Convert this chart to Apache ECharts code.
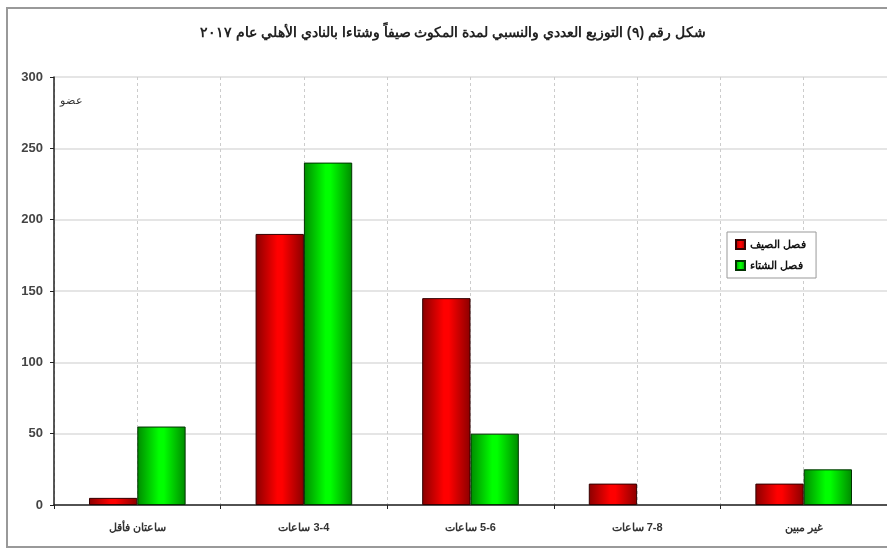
<!DOCTYPE html>
<html>
<head>
<meta charset="utf-8">
<script src="https://cdn.jsdelivr.net/npm/echarts@6/dist/echarts.min.js"></script>
<style>
html,body{margin:0;padding:0;background:#fff;}
#c{width:887px;height:549px;}
</style>
</head>
<body>
<div id="c"></div>
<script>
const titleText = "شكل رقم (٩) التوزيع العددي والنسبي لمدة المكوث صيفاً وشتاءا بالنادي الأهلي عام ٢٠١٧";
const unitText = "عضو";
const categories = ["ساعتان فأقل", "ساعات \u200E3-4", "ساعات \u200E5-6", "ساعات \u200E7-8", "غير مبين"];
const seriesNames = ["فصل الصيف", "فصل الشتاء"];
const summerValues = [5, 190, 145, 15, 15];
const winterValues = [55, 240, 50, 0, 25];
const yTicks = {min: 0, max: 300, interval: 50};

const halfCats = [];
categories.forEach((c) => { halfCats.push(c + "-a"); halfCats.push(c + "-b"); });

function grad(edge, mid) {
  return new echarts.graphic.LinearGradient(0, 0, 1, 0, [
    {offset: 0, color: edge}, {offset: 0.45, color: mid}, {offset: 0.55, color: mid}, {offset: 1, color: edge}
  ]);
}
const noZero = v => (v === 0 ? '-' : v);

const chart = echarts.init(document.getElementById('c'));
chart.setOption({
  animation: false,
  backgroundColor: '#fff',
  title: {
    text: titleText,
    left: 448, top: 21, textAlign: 'center',
    textStyle: {fontFamily: 'Arial', fontSize: 14, fontWeight: 'bold', color: '#222'}
  },
  legend: {
    orient: 'vertical',
    left: 727, top: 232,
    itemWidth: 9, itemHeight: 9, itemGap: 10,
    icon: 'rect',
    padding: [7, 10, 7, 8],
    borderColor: '#999', borderWidth: 1,
    backgroundColor: '#fff',
    textStyle: {fontFamily: 'Arial', fontSize: 11, fontWeight: 'bold', color: '#111'},
    data: seriesNames
  },
  graphic: [
    {type: 'rect', shape: {x: 7, y: 8, width: 890, height: 539}, style: {fill: 'none', stroke: '#999', lineWidth: 2}, z: 100, silent: true},
    {type: 'text', left: 60, top: 95, style: {text: unitText, font: '11px Arial', fill: '#333'}}
  ],
  grid: {left: 54, top: 77, width: 835, height: 428, containLabel: false},
  xAxis: [
    {
      type: 'category', data: categories, gridIndex: 0,
      axisLine: {lineStyle: {color: '#222', width: 1.5}},
      axisTick: {show: true, length: 4, lineStyle: {color: '#222'}},
      axisLabel: {fontFamily: 'Arial', fontSize: 11, fontWeight: 'bold', color: '#333', margin: 17, interval: 0},
      splitLine: {show: false}
    },
    {
      type: 'category', data: halfCats, gridIndex: 0, position: 'top',
      axisLine: {show: false}, axisTick: {show: false}, axisLabel: {show: false},
      splitLine: {show: true, interval: 0, lineStyle: {color: '#ccc', type: [3, 3], width: 1}}
    }
  ],
  yAxis: {
    type: 'value', min: yTicks.min, max: yTicks.max, interval: yTicks.interval,
    axisLine: {show: true, lineStyle: {color: '#222', width: 1.5}},
    axisTick: {show: true, length: 4, lineStyle: {color: '#222'}},
    axisLabel: {fontFamily: 'Arial', fontSize: 13, fontWeight: 'bold', color: '#444', margin: 11},
    splitLine: {show: true, lineStyle: {color: '#ddd', width: 1.5}}
  },
  series: [
    {
      name: seriesNames[0], type: 'bar', data: summerValues.map(noZero), xAxisIndex: 0,
      barGap: '0%', barCategoryGap: '42%',
      itemStyle: {color: grad('#8a0000', '#ff0000'), borderColor: '#300', borderWidth: 1}
    },
    {
      name: seriesNames[1], type: 'bar', data: winterValues.map(noZero), xAxisIndex: 0,
      barGap: '0%', barCategoryGap: '42%',
      itemStyle: {color: grad('#008a00', '#00ff00'), borderColor: '#030', borderWidth: 1}
    }
  ]
});
</script>
</body>
</html>
